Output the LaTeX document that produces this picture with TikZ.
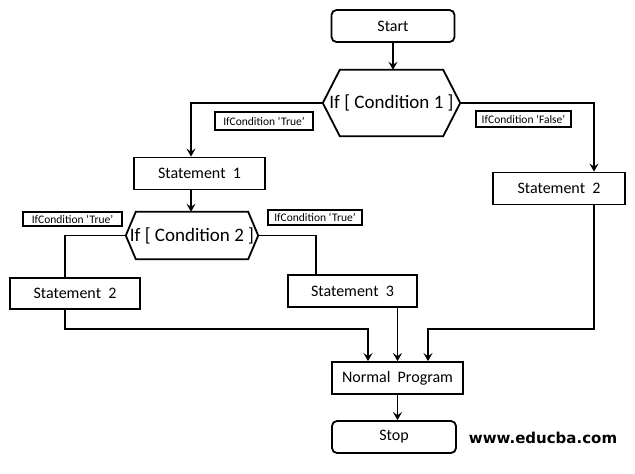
\documentclass[tikz,border=0pt]{standalone}
\usepackage{fontspec}
\setmainfont{Carlito}
\newfontfamily\wmfont{DejaVu Sans}
\usetikzlibrary{arrows.meta}

% Stili
\tikzset{
  box/.style={draw, line width=1.8pt, minimum width=131pt, minimum height=32pt,
    inner sep=0pt, font=\fontsize{16}{18}\selectfont},
  termbox/.style={box, rounded corners=5pt},
  condbox/.style={inner sep=0pt, font=\fontsize{19}{21}\selectfont},
  lblbox/.style={draw, line width=1.8pt, inner sep=0pt, font=\fontsize{11.5}{13}\selectfont},
  line/.style={line width=1.8pt},
  arr/.style={line, -{Stealth[length=8pt, width=9pt, inset=3pt]}}
}

% esagono attorno a un nodo: #1 nome, #2 punta
\newcommand{\hexagono}[2]{%
  \draw[line, line join=miter] (#1.west) -- ([xshift=#2]#1.north west) -- ([xshift=-#2]#1.north east)
    -- (#1.east) -- ([xshift=-#2]#1.south east) -- ([xshift=#2]#1.south west) -- cycle;}

\begin{document}
\begin{tikzpicture}[x=1pt, y=-1pt]
        \useasboundingbox (0,0) rectangle (635,474);

        % --- Nodi ---
        \node[termbox, minimum width=123pt] (start) at (393,26) {Start};
        \node[condbox, minimum width=137pt, minimum height=66pt] (cond1) at (391.5,103) {If [ Condition 1 ]};
        \node[box] (stat1) at (199.5,173.5) {Statement\ \ 1};
        \node[box, minimum width=132pt] (stat2r) at (559,188.5) {Statement\ \ 2};
        \node[condbox, minimum width=132pt, minimum height=47pt] (cond2) at (192,235.5) {If [ Condition 2 ]};
        \node[box, minimum width=130pt, minimum height=31pt] (stat2l) at (75,293.5) {Statement\ \ 2};
        \node[box, minimum width=129pt] (stat3) at (352.5,291) {Statement\ \ 3};
        \node[box] (normal) at (397.5,378) {Normal\ \ Program};
        \node[termbox, minimum width=124pt] (stop) at (394,437) {Stop};

        % --- Etichette ---
        \node[lblbox, minimum width=98pt, minimum height=18pt] (lbltrue1) at (264,121) {IfCondition ‘True’};
        \node[lblbox, minimum width=95pt, minimum height=16pt] (lblfalse) at (523.5,119) {IfCondition ‘False’};
        \node[lblbox, minimum width=99pt, minimum height=14pt] (lbltrue2) at (72.5,219) {IfCondition ‘True’};
        \node[lblbox, minimum width=94pt, minimum height=15pt] (lbltrue3) at (315,217.5) {IfCondition ‘True’};

        \hexagono{cond1}{17pt}
        \hexagono{cond2}{10pt}

        % --- Collegamenti ---
        \coordinate (joinl) at (368,329);
        \coordinate (joinr) at (428,329);

        \draw[arr] (start.south) -- (start.south |- cond1.north);
        \draw[arr] (cond1.west) -| ([xshift=-8.5pt]stat1.north);
        \draw[arr] (cond1.east) -| ([xshift=35pt]stat2r.north);
        \draw[arr] ([xshift=-8.5pt]stat1.south) -- ([xshift=-8.5pt]stat1.south |- cond2.north);
        \draw[line] (cond2.west) -| ([xshift=-10pt]stat2l.north);
        \draw[line] (cond2.east) -| ([xshift=-36.5pt]stat3.north);

        \draw[arr] ([xshift=-10pt]stat2l.south) |- (joinl) -- (joinl |- normal.north);
        \draw[arr] (stat3.south -| normal.north) -- (normal.north);
        \draw[arr] ([xshift=35pt]stat2r.south) |- (joinr) -- (joinr |- normal.north);
        \draw[arr] (normal.south) -- (normal.south |- stop.north);

        % --- Marchio ---
        \node[font=\wmfont\bfseries\fontsize{15}{17}\selectfont, anchor=base] (wm) at (543,443) {www.educba.com};
\end{tikzpicture}
\end{document}
